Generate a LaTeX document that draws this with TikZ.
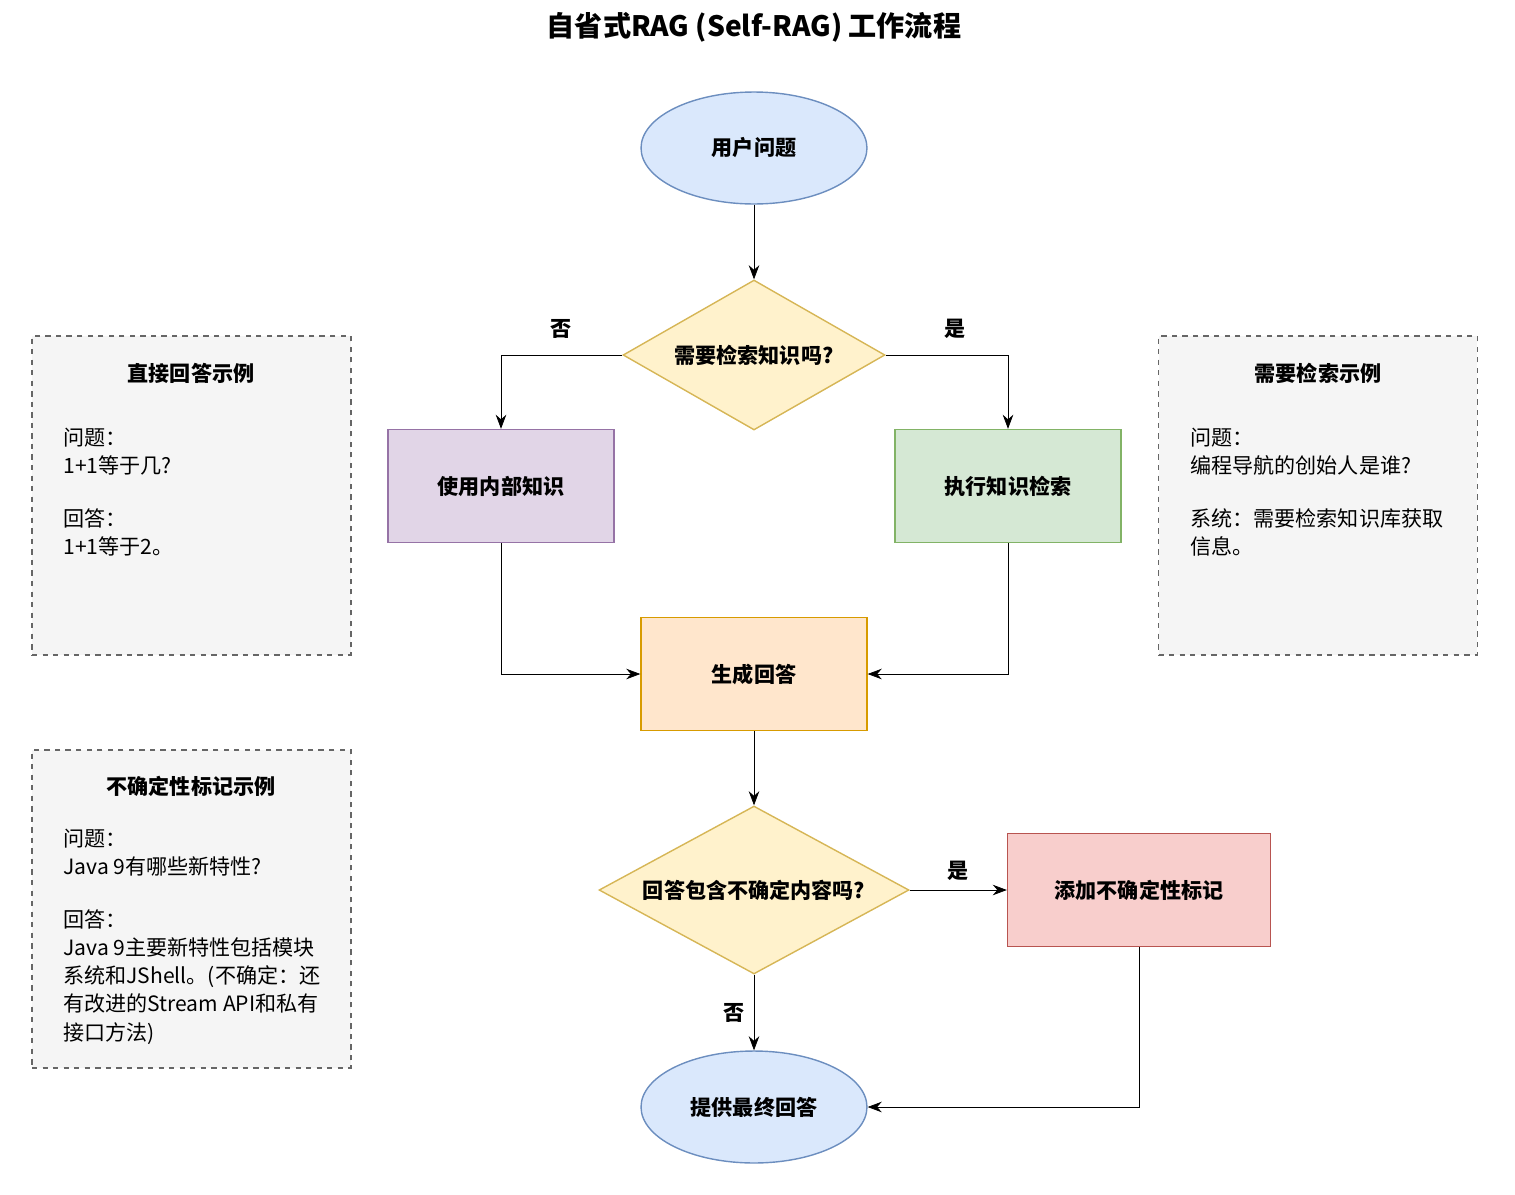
\documentclass[tikz,border=0pt]{standalone}
\usepackage{fontspec}
\setmainfont{Noto Sans CJK SC}
\usetikzlibrary{positioning}
\usetikzlibrary{shapes.geometric}
\usetikzlibrary{arrows.meta}
\definecolor{eblue}{HTML}{DAE8FC}
\definecolor{eblued}{HTML}{6C8EBF}
\definecolor{dyel}{HTML}{FFF2CC}
\definecolor{dyeld}{HTML}{D6B656}
\definecolor{pfill}{HTML}{E1D5E7}
\definecolor{pdraw}{HTML}{9673A6}
\definecolor{gfill}{HTML}{D5E8D4}
\definecolor{gdraw}{HTML}{82B366}
\definecolor{ofill}{HTML}{FFE6CC}
\definecolor{odraw}{HTML}{D79B00}
\definecolor{rfill}{HTML}{F8CECC}
\definecolor{rdraw}{HTML}{B85450}
\tikzstyle{E} = [ellipse,fill=eblue,draw=eblued,line width=0.8pt,minimum width=4.52cm,minimum height=2.24cm,font=\bfseries\fontsize{12}{14}\selectfont]
\tikzstyle{D} = [diamond,aspect=1.75,fill=dyel,draw=dyeld,line width=0.8pt,inner sep=0pt,font=\bfseries\fontsize{12}{14}\selectfont]
\tikzstyle{R} = [rectangle,line width=0.8pt,minimum width=4.52cm,minimum height=2.26cm,font=\bfseries\fontsize{12}{14}\selectfont]
\tikzstyle{B} = [rectangle,fill=black!4,draw=black!60,dashed,line width=0.8pt,minimum width=6.38cm]
\tikzstyle{L} = [font=\bfseries\fontsize{12}{14}\selectfont]
\tikzstyle{T} = [anchor=north west,align=left,inner sep=0pt,font=\fontsize{12}{16}\selectfont]
\tikzset{>={Stealth[length=8pt,width=6pt]}}

\begin{document}
\begin{tikzpicture}[x=0.02cm,y=-0.02cm]
  \useasboundingbox (0,0) rectangle (1515,1194);
  \node [font=\bfseries\fontsize{16}{18}\selectfont] (title) at (754,27) {自省式RAG (Self-RAG) 工作流程};

  % main flow
  \node [E] (q) at (754,148) {用户问题};
  \node [D,minimum width=5.24cm,minimum height=3cm] (d1) at (754,355) {需要检索知识吗?};
  \node [R,fill=pfill,draw=pdraw] (int) at (501,486) {使用内部知识};
  \node [R,fill=gfill,draw=gdraw] (ret) at (1008,486) {执行知识检索};
  \node [R,fill=ofill,draw=odraw] (gen) at (754,674) {生成回答};
  \node [D,minimum width=6.2cm,minimum height=3.36cm] (d2) at (754,890) {回答包含不确定内容吗?};
  \node [R,fill=rfill,draw=rdraw,minimum width=5.26cm] (add) at (1139,890) {添加不确定性标记};
  \node [E] (fin) at (754,1107) {提供最终回答};

  \draw [->] (q) -- (d1);
  \draw [->] (d1.west) -| (int.north) node [L,pos=0.5,above=6pt,xshift=34pt] {否};
  \draw [->] (d1.east) -| (ret.north) node [L,pos=0.5,above=6pt,xshift=-30pt] {是};
  \draw [->] (int.south) |- (gen.west);
  \draw [->] (ret.south) |- (gen.east);
  \draw [->] (gen) -- (d2);
  \draw [->] (d2.east) -- (add.west) node [L,midway,above=2pt] {是};
  \draw [->] (d2.south) -- (fin.north) node [L,midway,left=2pt] {否};
  \draw [->] (add.south) |- (fin.east);

  % example boxes
  \node [B,minimum height=6.38cm] (b1) at (191.5,495.5) {};
  \node [L] (b1t) at (191,373) {直接回答示例};
  \node [T] (b1x) at (63,428) {问题：\\1+1等于几?\\[14pt]回答：\\1+1等于2。};

  \node [B,minimum height=6.38cm] (b2) at (1318,495.5) {};
  \node [L] (b2t) at (1318,373) {需要检索示例};
  \node [T] (b2x) at (1190,428) {问题：\\编程导航的创始人是谁?\\[14pt]系统：需要检索知识库获取\\信息。};

  \node [B,minimum height=6.36cm] (b3) at (191.5,909) {};
  \node [L] (b3t) at (191,786) {不确定性标记示例};
  \node [T] (b3x) at (63,829) {问题：\\Java 9有哪些新特性?\\[14pt]回答：\\Java 9主要新特性包括模块\\系统和JShell。(不确定：还\\有改进的Stream API和私有\\接口方法)};
\end{tikzpicture}
\end{document}
